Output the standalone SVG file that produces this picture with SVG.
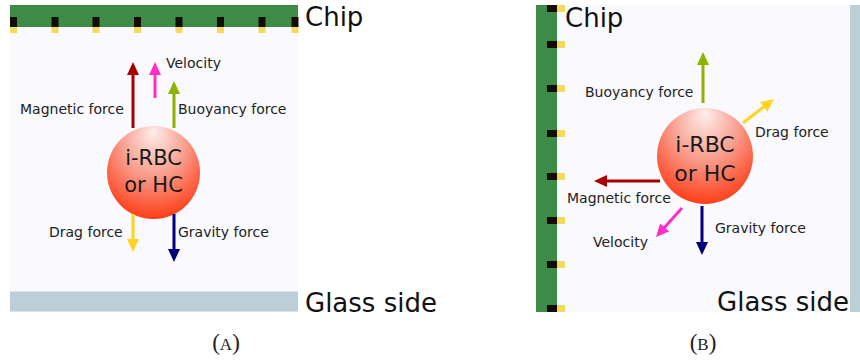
<svg xmlns="http://www.w3.org/2000/svg" width="860" height="360" viewBox="0 0 860 360">
<style>
.bg{fill:#f9f9fe}
.chip{fill:#3d8b47}
.pad{fill:#160c06}
.padY{fill:#f3da5c}
.glass{fill:#bccfd8}
.lbl{font-family:"DejaVu Sans",Verdana,sans-serif;font-size:14px;fill:#222}
.big{font-family:"DejaVu Sans",Verdana,sans-serif;font-size:26px;fill:#111}
.cell{font-family:"DejaVu Sans",Verdana,sans-serif;fill:#1a1a1a;text-anchor:middle}
.cap{font-family:"Liberation Serif","Times New Roman",serif;font-size:23px;fill:#222;text-anchor:middle}
.s{stroke-width:3;fill:none}
</style>
<defs>
<radialGradient id="rbc" cx="0.5" cy="0.35" r="0.75" fx="0.5" fy="0.05">
<stop offset="0" stop-color="#fdeeec"/>
<stop offset="0.45" stop-color="#f8a090"/>
<stop offset="1" stop-color="#ff2a00"/>
</radialGradient>
<marker id="mR" viewBox="0 0 13 12" refX="1" refY="6" markerWidth="13" markerHeight="12" markerUnits="userSpaceOnUse" orient="auto"><path d="M0,0 L13,6 L0,12 z" fill="#a80000"/></marker>
<marker id="mP" viewBox="0 0 13 12" refX="1" refY="6" markerWidth="13" markerHeight="12" markerUnits="userSpaceOnUse" orient="auto"><path d="M0,0 L13,6 L0,12 z" fill="#ff2ec8"/></marker>
<marker id="mG" viewBox="0 0 13 12" refX="1" refY="6" markerWidth="13" markerHeight="12" markerUnits="userSpaceOnUse" orient="auto"><path d="M0,0 L13,6 L0,12 z" fill="#8db300"/></marker>
<marker id="mY" viewBox="0 0 13 12" refX="1" refY="6" markerWidth="13" markerHeight="12" markerUnits="userSpaceOnUse" orient="auto"><path d="M0,0 L13,6 L0,12 z" fill="#ffd41f"/></marker>
<marker id="mN" viewBox="0 0 13 12" refX="1" refY="6" markerWidth="13" markerHeight="12" markerUnits="userSpaceOnUse" orient="auto"><path d="M0,0 L13,6 L0,12 z" fill="#00007e"/></marker>
</defs>
<rect width="860" height="360" fill="#ffffff"/>

<!-- Panel A -->
<g id="panelA-frame">
<rect class="bg" x="10" y="5" width="288" height="307"/>
<rect class="chip" x="10" y="5" width="288" height="22"/>
<g id="padsA">
<rect class="pad" x="10" y="17" width="7" height="10"/><rect class="padY" x="10" y="27" width="7" height="6"/>
<rect class="pad" x="51.5" y="17" width="7" height="10"/><rect class="padY" x="51.5" y="27" width="7" height="6"/>
<rect class="pad" x="92.5" y="17" width="7" height="10"/><rect class="padY" x="92.5" y="27" width="7" height="6"/>
<rect class="pad" x="134" y="17" width="7" height="10"/><rect class="padY" x="134" y="27" width="7" height="6"/>
<rect class="pad" x="175.5" y="17" width="7" height="10"/><rect class="padY" x="175.5" y="27" width="7" height="6"/>
<rect class="pad" x="217" y="17" width="7" height="10"/><rect class="padY" x="217" y="27" width="7" height="6"/>
<rect class="pad" x="258.5" y="17" width="7" height="10"/><rect class="padY" x="258.5" y="27" width="7" height="6"/>
<rect class="pad" x="291.5" y="17" width="7" height="10"/><rect class="padY" x="291.5" y="27" width="7" height="6"/>
</g>
<rect class="glass" x="10" y="291.5" width="288" height="20"/>
<text class="big" x="305" y="26">Chip</text>
<text class="big" x="305" y="312">Glass side</text>
<text class="cap" x="226" y="350">(<tspan font-size="17">A</tspan>)</text>
</g>
<g id="cellA">
<circle cx="153.5" cy="172.5" r="46.5" fill="url(#rbc)"/>
<text class="cell" x="153.5" y="165" font-size="21">i-RBC</text>
<text class="cell" x="153.5" y="192" font-size="21">or HC</text>
</g>
<g id="connectorsA">
<line class="s" x1="133" y1="128" x2="133" y2="74" stroke="#a80000" marker-end="url(#mR)"/>
<line class="s" x1="155" y1="98" x2="155" y2="74" stroke="#ff2ec8" marker-end="url(#mP)"/>
<line class="s" x1="174" y1="128" x2="174" y2="93" stroke="#8db300" marker-end="url(#mG)"/>
<line class="s" x1="133" y1="214" x2="133" y2="240" stroke="#ffd41f" marker-end="url(#mY)"/>
<line class="s" x1="174" y1="214" x2="174" y2="250" stroke="#00007e" marker-end="url(#mN)"/>
</g>
<g id="labelsA">
<text class="lbl" x="166" y="68">Velocity</text>
<text class="lbl" x="20" y="114">Magnetic force</text>
<text class="lbl" x="178" y="114">Buoyancy force</text>
<text class="lbl" x="49" y="237">Drag force</text>
<text class="lbl" x="178" y="237">Gravity force</text>
</g>

<!-- Panel B -->
<g id="panelB-frame">
<rect class="bg" x="536" y="5" width="314" height="307"/>
<rect class="chip" x="536" y="5" width="21" height="307"/>
<g id="padsB">
<rect class="pad" x="547" y="5" width="10" height="7"/><rect class="padY" x="557" y="5" width="8" height="7"/>
<rect class="pad" x="547" y="41" width="10" height="7"/><rect class="padY" x="557" y="41" width="8" height="7"/>
<rect class="pad" x="547" y="85" width="10" height="7"/><rect class="padY" x="557" y="85" width="8" height="7"/>
<rect class="pad" x="547" y="130" width="10" height="7"/><rect class="padY" x="557" y="130" width="8" height="7"/>
<rect class="pad" x="547" y="173" width="10" height="7"/><rect class="padY" x="557" y="173" width="8" height="7"/>
<rect class="pad" x="547" y="217" width="10" height="7"/><rect class="padY" x="557" y="217" width="8" height="7"/>
<rect class="pad" x="547" y="261" width="10" height="7"/><rect class="padY" x="557" y="261" width="8" height="7"/>
<rect class="pad" x="547" y="305" width="10" height="7"/><rect class="padY" x="557" y="305" width="8" height="7"/>
</g>
<rect class="glass" x="850" y="5" width="10" height="307"/>
<text class="big" x="565" y="27">Chip</text>
<text class="big" x="849" y="311" font-size="27" text-anchor="end">Glass side</text>
<text class="cap" x="703" y="350">(<tspan font-size="17">B</tspan>)</text>
</g>
<g id="cellB">
<circle cx="705" cy="156" r="48" fill="url(#rbc)"/>
<text class="cell" x="705" y="152" font-size="22">i-RBC</text>
<text class="cell" x="705" y="181" font-size="22">or HC</text>
</g>
<g id="connectorsB">
<line class="s" x1="703" y1="103" x2="703" y2="64" stroke="#8db300" marker-end="url(#mG)"/>
<line class="s" x1="743" y1="123" x2="764.5" y2="106.3" stroke="#ffd41f" marker-end="url(#mY)"/>
<line class="s" x1="660" y1="181" x2="606" y2="181" stroke="#a80000" marker-end="url(#mR)"/>
<line class="s" x1="682" y1="208" x2="664" y2="228.1" stroke="#ff2ec8" marker-end="url(#mP)"/>
<line class="s" x1="702" y1="206" x2="702" y2="243" stroke="#00007e" marker-end="url(#mN)"/>
</g>
<g id="labelsB">
<text class="lbl" x="585" y="97">Buoyancy force</text>
<text class="lbl" x="755" y="137">Drag force</text>
<text class="lbl" x="567" y="203">Magnetic force</text>
<text class="lbl" x="593" y="247">Velocity</text>
<text class="lbl" x="715" y="233">Gravity force</text>
</g>
</svg>
